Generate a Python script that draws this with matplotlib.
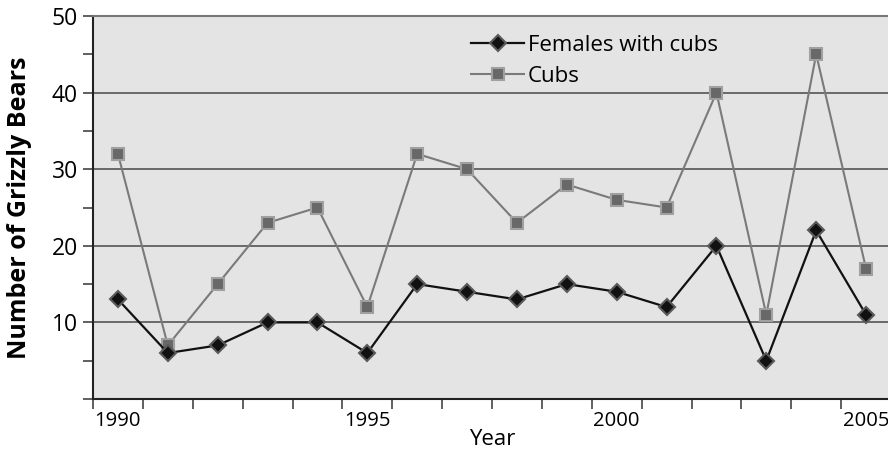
import matplotlib
matplotlib.use("Agg")
import matplotlib.pyplot as plt
from matplotlib.ticker import FixedLocator

years = list(range(1990, 2006))
females = [13, 6, 7, 10, 10, 6, 15, 14, 13, 15, 14, 12, 20, 5, 22, 11]
cubs = [32, 7, 15, 23, 25, 12, 32, 30, 23, 28, 26, 25, 40, 11, 45, 17]
label_years = [1990, 1995, 2000, 2005]

plt.rcParams['font.family'] = ['Open Sans', 'DejaVu Sans']

fig = plt.figure(figsize=(8.88, 4.53), dpi=100)
ax = fig.add_axes([93/888, 1-399/453, 1-93/888 + 3/888, (399-16)/453])
ax.set_facecolor('#e4e4e4')

idx = list(range(len(years)))
ax.plot(idx, cubs, color='#7a7a7a', lw=1.5, marker='s', markersize=9,
        markerfacecolor='#686868', markeredgecolor='#a0a0a0', markeredgewidth=1.5,
        label='Cubs', zorder=3)
ax.plot(idx, females, color='#111111', lw=1.6, marker='D', markersize=8,
        markerfacecolor='#111111', markeredgecolor='#5a5a5a', markeredgewidth=1.5,
        label='Females with cubs', zorder=4)

ax.set_ylim(0, 50)
ax.set_xlim(-0.5, 15.5)

ax.set_yticks([10, 20, 30, 40, 50])
ax.set_yticklabels(['10', '20', '30', '40', '50'], fontsize=16.5)
ax.yaxis.set_minor_locator(FixedLocator([0, 5, 15, 25, 35, 45]))
ax.tick_params(axis='y', which='both', length=7, width=1.2, color='#444444', pad=4)
for y in [10, 20, 30, 40]:
    ax.axhline(y, color='#555555', lw=1.2, zorder=1)

ax.set_xticks([years.index(y) for y in label_years])
ax.set_xticklabels([str(y) for y in label_years], fontsize=14.6)
ax.tick_params(axis='x', which='major', length=0, pad=9)
ax.xaxis.set_minor_locator(FixedLocator([i - 0.5 for i in range(17)]))
ax.tick_params(axis='x', which='minor', length=7, width=1.2, color='#444444')

for s in ['left', 'bottom']:
    ax.spines[s].set_color('#222222')
    ax.spines[s].set_linewidth(1.5)
ax.spines['top'].set_color('#777777')
ax.spines['top'].set_linewidth(1.5)
ax.spines['right'].set_visible(False)

ax.set_xlabel('Year', fontsize=16, labelpad=-2)
ax.set_ylabel('Number of Grizzly Bears', fontsize=18, fontweight='bold', labelpad=14)

handles, labels = ax.get_legend_handles_labels()
leg = ax.legend(handles[::-1], labels[::-1], loc='upper left',
                bbox_to_anchor=(462/888, 1-26/453), bbox_transform=fig.transFigure,
                frameon=False, fontsize=16, handlelength=2.4, handletextpad=0.15,
                labelspacing=0.45, borderaxespad=0)

fig.savefig('out.png', dpi=100)
